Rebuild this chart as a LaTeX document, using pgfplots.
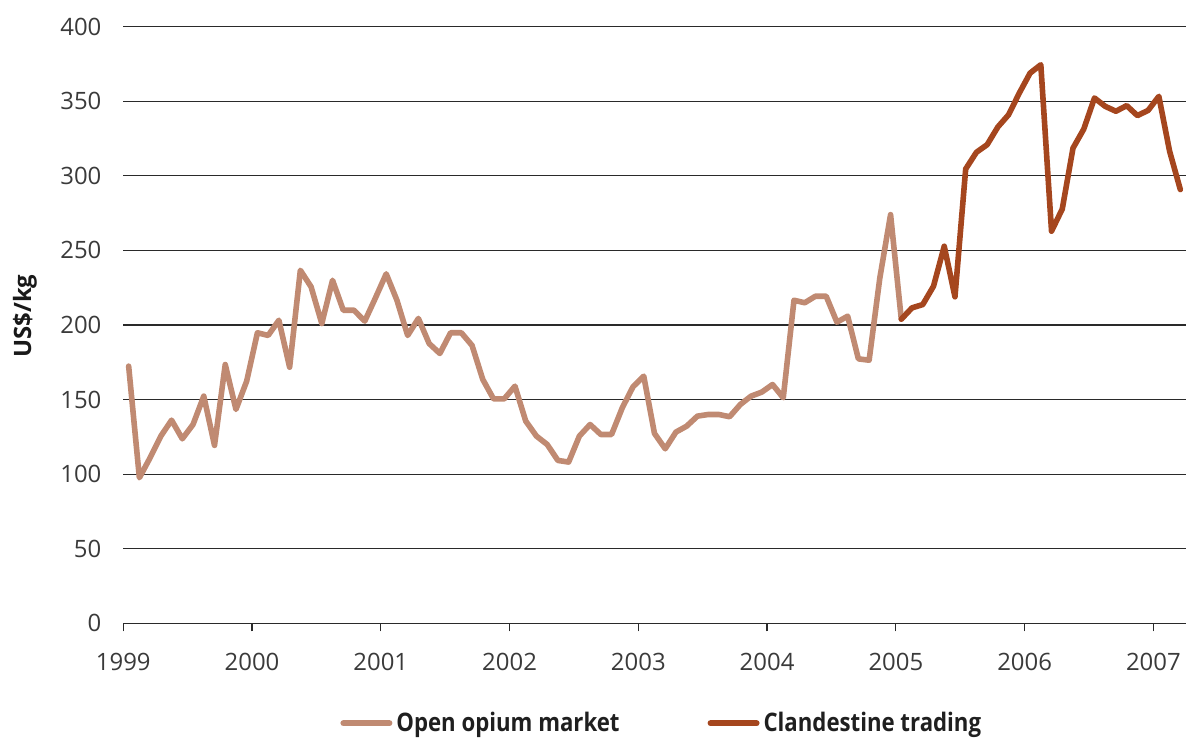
\documentclass[border=0pt]{standalone}
\usepackage{fontspec}
\setmainfont{Open Sans}
\newfontfamily\legfont[FakeStretch=0.87]{Open Sans}
\usepackage{pgfplots}
\usepackage{pgfplotstable}
\pgfplotsset{compat=1.18}

\definecolor{openc}{HTML}{C08A72}
\definecolor{clandc}{HTML}{A5461E}
\definecolor{txt}{HTML}{3A3A3A}
\definecolor{gridc}{HTML}{2A2A2A}

% monthly prices, m = months since Jan 1999
\pgfplotstableread{
m v
0 172.4
1 97.6
2 111.0
3 125.5
4 136.2
5 123.7
6 133.3
7 152.3
8 119.3
9 173.5
10 143.4
11 162.4
12 194.8
13 193.0
14 203.2
15 171.7
16 236.7
17 225.6
18 201.0
19 230.0
20 209.9
21 209.9
22 202.6
23 218.2
24 234.3
25 216.6
26 193.0
27 204.4
28 187.6
29 180.9
30 194.8
31 194.8
32 186.3
33 163.5
34 150.5
35 150.5
36 159.0
37 135.6
38 125.5
39 119.9
40 109.2
41 108.1
42 125.5
43 133.3
44 126.6
45 126.6
46 144.5
47 158.6
48 165.7
49 127.3
50 117.0
51 128.2
52 132.2
53 138.9
54 140.0
55 140.0
56 138.5
57 146.7
58 152.3
59 155.0
60 160.1
61 151.2
62 216.6
63 214.9
64 219.3
65 219.3
66 201.9
67 205.9
68 177.3
69 176.4
70 231.6
71 274.0
72 203.9
}\openmarket

\pgfplotstableread{
m v
72 203.9
73 211.5
74 213.7
75 226.0
76 252.8
77 218.9
78 304.6
79 315.8
80 320.9
81 332.8
82 341.0
83 355.6
84 368.9
85 374.5
86 262.9
87 277.8
88 318.6
89 331.3
90 352.2
91 346.6
92 343.3
93 347.1
94 340.4
95 343.9
96 353.3
97 316.5
98 290.8
}\clandestine

\begin{document}
\begin{tikzpicture}
\begin{axis}[
  scale only axis,
  width=531.2bp, height=298.3bp,
  xmin=1999, xmax=2007.25,
  ymin=0, ymax=400,
  axis lines*=left,
  x axis line style={gridc, line width=0.6bp},
  y axis line style={draw=none},
  xtick={1999,...,2007},
  ytick={0,50,...,400},
  ymajorgrids,
  major grid style={gridc, line width=0.6bp},
  tick align=outside,
  major tick length=4bp,
  xtick style={gridc, line width=0.6bp},
  ytick style={draw=none},
  /pgf/number format/1000 sep={},
  /pgf/number format/assume math mode=true,
  tick label style={font=\fontsize{12}{14}\selectfont, text=txt},
  yticklabel style={inner sep=0pt, xshift=-6.8bp},
  xticklabel style={inner sep=0pt, yshift=-10.7bp},
  ylabel={\bfseries US\$/kg},
  ylabel style={at={(axis description cs:-0.0925,0.515)}, anchor=center,
    font=\fontsize{12}{14}\selectfont, text=black!90},
  legend columns=2,
  legend cell align=left,
  legend image code/.code={\draw[#1, line width=3bp, line cap=round] (1.5bp,0bp) -- (24.5bp,0bp);},
  legend style={at={(0.204,0)}, anchor=west, yshift=-50bp, draw=none, fill=none,
    inner sep=0pt, nodes={inner sep=0pt},
    font=\legfont\bfseries\fontsize{12.8}{15}\selectfont, text=black!88,
    /tikz/every odd column/.append style={column sep=2bp},
    /tikz/every even column/.append style={column sep=44bp}},
]
\addplot[openc, line width=2.8bp, line join=round, line cap=round]
  table[x expr=1999+(\thisrow{m}+0.5)/12, y=v] {\openmarket};
\addlegendentry{Open opium market}
\addplot[clandc, line width=2.8bp, line join=round, line cap=round]
  table[x expr=1999+(\thisrow{m}+0.5)/12, y=v] {\clandestine};
\addlegendentry{Clandestine trading}
\coordinate (o) at (rel axis cs:0,0);
\coordinate (t) at (rel axis cs:1,1);
\end{axis}
\pgfresetboundingbox
\path[use as bounding box] ([xshift=-61.65bp,yshift=-57.35bp]o) rectangle ([xshift=1.15bp,yshift=13.35bp]t);
\end{tikzpicture}
\end{document}
